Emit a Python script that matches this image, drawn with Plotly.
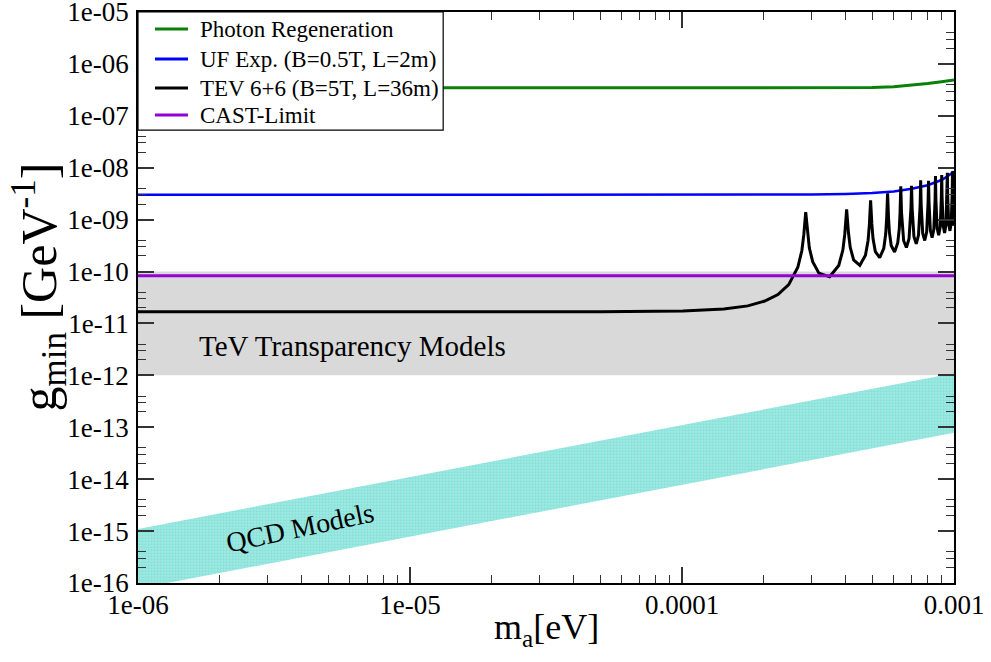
import plotly.graph_objects as go

# ---------------- data ----------------
mass_span = [1.0e-6, 1.0e-3]

photon_mass = [1.0e-6, 4.0e-4, 5.0e-4, 6.0e-4, 7.0e-4, 8.0e-4, 9.0e-4, 1.0e-3]
photon_g = [3.45e-7, 3.45e-7, 3.5e-7, 3.65e-7, 3.9e-7, 4.2e-7, 4.55e-7, 4.9e-7]

uf_mass = [1.0e-6, 1.0e-4, 2.0e-4, 3.0e-4, 4.0e-4, 5.0e-4, 6.0e-4, 7.0e-4, 8.0e-4, 9.0e-4, 9.5e-4, 1.0e-3]
uf_g = [3.0e-9, 3.0e-9, 3.02e-9, 3.05e-9, 3.12e-9, 3.25e-9, 3.5e-9, 3.95e-9, 4.6e-9, 5.8e-9, 6.9e-9, 8.5e-9]

tev_mass = [1.0e-6, 1.0e-5, 5.0e-5, 1.008e-4, 1.425e-4, 1.745e-4, 2.015e-4, 2.253e-4, 2.468e-4, 2.666e-4, 2.759e-4, 2.805e-4, 2.850e-4,
            2.938e-4, 3.023e-4, 3.186e-4, 3.490e-4, 3.770e-4, 3.903e-4, 3.967e-4, 4.030e-4,
            4.093e-4, 4.154e-4, 4.275e-4, 4.506e-4, 4.726e-4, 4.832e-4, 4.885e-4, 4.936e-4,
            4.988e-4, 5.038e-4, 5.138e-4, 5.332e-4, 5.519e-4, 5.610e-4, 5.655e-4, 5.700e-4,
            5.744e-4, 5.788e-4, 5.876e-4, 6.046e-4, 6.211e-4, 6.293e-4, 6.333e-4, 6.373e-4,
            6.413e-4, 6.530e-4, 6.684e-4, 6.834e-4, 6.945e-4, 6.981e-4,
            7.017e-4, 7.125e-4, 7.266e-4, 7.405e-4, 7.507e-4, 7.541e-4,
            7.574e-4, 7.674e-4, 7.805e-4, 7.934e-4, 8.030e-4, 8.061e-4,
            8.093e-4, 8.186e-4, 8.309e-4, 8.430e-4, 8.520e-4, 8.550e-4,
            8.580e-4, 8.668e-4, 8.784e-4, 8.899e-4, 8.984e-4, 9.013e-4,
            9.040e-4, 9.125e-4, 9.235e-4, 9.344e-4, 9.426e-4, 9.452e-4,
            9.479e-4, 9.559e-4, 9.665e-4, 9.769e-4, 9.847e-4, 9.873e-4,
            9.898e-4, 9.975e-4, 1.0e-3]
tev_g = [1.68e-11, 1.68e-11, 1.69e-11, 1.74e-11, 1.90e-11, 2.18e-11, 2.70e-11, 3.6e-11, 5.6e-11, 1.21e-10, 2.54e-10, 5.2e-10, 1.39e-9,
         2.87e-10, 1.55e-10, 9.33e-11, 7.92e-11, 1.31e-10, 2.59e-10, 5.24e-10, 1.57e-9,
         5.58e-10, 2.93e-10, 1.68e-10, 1.32e-10, 2.05e-10, 3.97e-10, 7.95e-10, 2.35e-9,
         8.28e-10, 4.31e-10, 2.43e-10, 1.85e-10, 2.80e-10, 5.34e-10, 1.07e-9, 3.2e-9,
         1.10e-9, 5.69e-10, 3.17e-10, 2.38e-10, 3.55e-10, 6.72e-10, 1.34e-9, 4.4e-9,
         1.37e-9, 3.92e-10, 2.90e-10, 4.29e-10, 1.61e-9, 4.5e-9,
         1.64e-9, 4.67e-10, 3.43e-10, 5.04e-10, 1.88e-9, 5.7e-9,
         1.91e-9, 5.41e-10, 3.96e-10, 5.79e-10, 2.15e-9, 5.6e-9,
         2.18e-9, 6.16e-10, 4.49e-10, 6.53e-10, 2.42e-9, 6.9e-9,
         2.45e-9, 6.90e-10, 5.01e-10, 7.28e-10, 2.69e-9, 7.2e-9,
         2.72e-9, 7.65e-10, 5.54e-10, 8.02e-10, 2.96e-9, 8.0e-9,
         2.99e-9, 8.40e-10, 6.07e-10, 8.77e-10, 3.23e-9, 8.5e-9,
         3.26e-9, 9.14e-10, 7.6e-10]

cast_g = [8.3e-11, 8.3e-11]

tev_band_low = [1.0e-12, 1.0e-12]
tev_band_high = [1.0e-10, 1.0e-10]

qcd_low = [7.8e-17, 7.8e-14]
qcd_high = [1.1e-15, 1.1e-12]

x_tickvals = [1e-6, 1e-5, 1e-4, 1e-3]
x_ticktext = ["1e-06", "1e-05", "0.0001", "0.001"]
y_tickvals = [1e-16, 1e-15, 1e-14, 1e-13, 1e-12, 1e-11, 1e-10, 1e-9, 1e-8, 1e-7, 1e-6, 1e-5]
y_ticktext = ["1e-16", "1e-15", "1e-14", "1e-13", "1e-12", "1e-11", "1e-10", "1e-09", "1e-08", "1e-07", "1e-06", "1e-05"]

series_names = ["Photon Regeneration", "UF Exp. (B=0.5T, L=2m)", "TEV 6+6 (B=5T, L=36m)", "CAST-Limit"]
series_colors = ["#0a800a", "#0000ff", "#000000", "#9400d3"]

FONT = "Liberation Serif"

fig = go.Figure()

# grey TeV transparency band
fig.add_trace(go.Scatter(x=mass_span, y=tev_band_low, mode="lines", line=dict(width=0, color="#d9d9d9"),
                         showlegend=False, hoverinfo="skip"))
fig.add_trace(go.Scatter(x=mass_span, y=tev_band_high, mode="lines", line=dict(width=0, color="#d9d9d9"),
                         fill="tonexty", fillcolor="#d9d9d9", showlegend=False, hoverinfo="skip"))

# QCD band
fig.add_trace(go.Scatter(x=mass_span, y=qcd_low, mode="lines", line=dict(width=0, color="#7fe0d7"),
                         showlegend=False, hoverinfo="skip"))
fig.add_trace(go.Scatter(x=mass_span, y=qcd_high, mode="lines", line=dict(width=0, color="#7fe0d7"),
                         fill="tonexty", fillcolor="#7fe0d7",
                         fillpattern=dict(shape=".", size=3, solidity=0.45, fgcolor="#66dad0", bgcolor="#a2e9e2"),
                         showlegend=False, hoverinfo="skip"))

# curves
line_widths = [3, 2.5, 3, 3]
for (xs, ys), name, color, w in zip([(photon_mass, photon_g), (uf_mass, uf_g), (tev_mass, tev_g),
                                     (mass_span, cast_g)], series_names, series_colors, line_widths):
    fig.add_trace(go.Scatter(x=xs, y=ys, mode="lines", name=name, line=dict(color=color, width=w),
                             showlegend=False))

x_minor = [k * 10.0 ** e for e in range(-6, -3) for k in range(2, 10)]
y_minor = [k * 10.0 ** e for e in range(-16, -5) for k in (2, 3, 4)]

axis_common = dict(
    showline=True, linecolor="black", linewidth=1.5, mirror="allticks",
    ticks="inside", ticklen=16, tickwidth=1.5, tickcolor="#333333",
    showgrid=False, zeroline=False, automargin=False, ticklabeloverflow="allow",
    tickfont=dict(family=FONT, size=27, color="black"),
)

fig.update_xaxes(type="log", range=[-6, -3], tickmode="array", tickvals=x_tickvals, ticktext=x_ticktext,
                 ticklabelstandoff=-3,
                 minor=dict(tickmode="array", tickvals=x_minor, ticks="inside", ticklen=8, tickwidth=1.2,
                            tickcolor="#333333", showgrid=False),
                 **axis_common)
fig.update_yaxes(type="log", range=[-16, -5], tickmode="array", tickvals=y_tickvals, ticktext=y_ticktext,
                 ticklabelstandoff=2,
                 minor=dict(tickmode="array", tickvals=y_minor, ticks="inside", ticklen=8, tickwidth=1.2,
                            tickcolor="#333333", showgrid=False),
                 **axis_common)

# axis titles
fig.add_annotation(x=0.5, y=0, xref="paper", yref="paper", yshift=-46, yanchor="middle", xanchor="center",
                   text="m<sub>a</sub>[eV]", showarrow=False, font=dict(family=FONT, size=36, color="black"))
fig.add_annotation(x=0, y=0.5, xref="paper", yref="paper", xshift=-99, yshift=10, xanchor="center", yanchor="middle",
                   textangle=-90, text="g<sub>min</sub>&nbsp;[GeV<sup>-1</sup>]", showarrow=False,
                   font=dict(family=FONT, size=50, color="black"))

fig.add_annotation(x=-5.21, y=-11.44, xref="x", yref="y", text="TeV Transparency Models", showarrow=False,
                   font=dict(family=FONT, size=29, color="black"))
fig.add_annotation(x=-5.404, y=-14.93, xref="x", yref="y", text="QCD Models", showarrow=False, textangle=-12,
                   font=dict(family=FONT, size=28, color="black"))

# legend box drawn in the top-left corner of the plot
legend_right = 0.374
legend_bottom = 0.793
row_y = [0.9702, 0.9176, 0.8668, 0.8195]
fig.add_shape(type="rect", xref="paper", yref="paper", x0=0, x1=legend_right, y0=legend_bottom, y1=1,
              line=dict(color="black", width=1.2), fillcolor="white", layer="above")
for ry, name, color in zip(row_y, series_names, series_colors):
    fig.add_shape(type="line", xref="paper", yref="paper", x0=0.0208, x1=0.0613, y0=ry, y1=ry,
                  line=dict(color=color, width=3), layer="above")
    fig.add_annotation(x=0.0735, y=ry, xref="paper", yref="paper", xanchor="left", yanchor="middle",
                       text=name, showarrow=False, font=dict(family=FONT, size=23, color="black"))

fig.update_layout(
    width=991, height=662,
    margin=dict(l=138, r=37, t=12, b=79),
    paper_bgcolor="white", plot_bgcolor="white",
    font=dict(family=FONT, color="black"),
    showlegend=False,
    hovermode=False,
)

fig.write_html("out.html", config={"displayModeBar": False},
               post_script="document.body.style.margin='0px';")
